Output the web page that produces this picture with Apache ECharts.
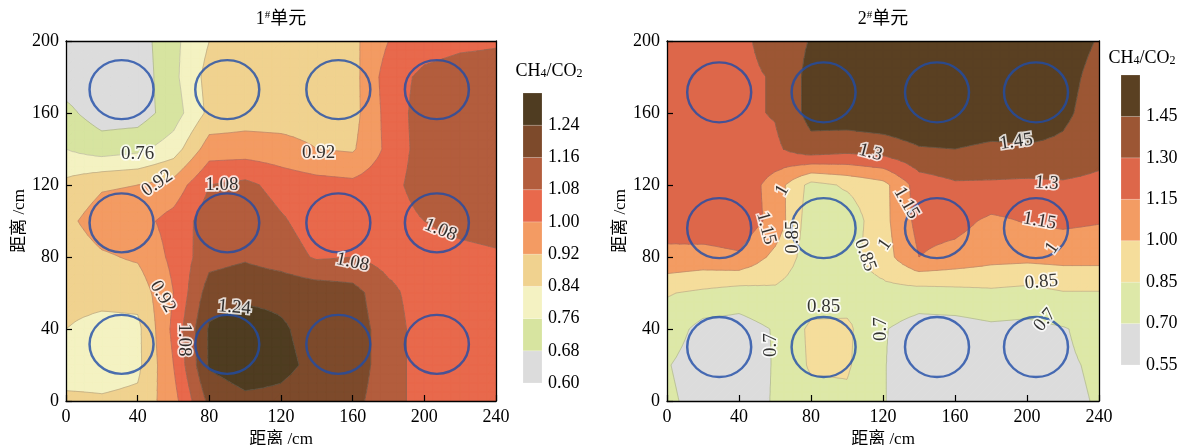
<!DOCTYPE html>
<html><head><meta charset="utf-8">
<script src="https://cdn.jsdelivr.net/npm/echarts@6/dist/echarts.min.js"></script>
<style>html,body{margin:0;padding:0;background:#fff}#c{width:1184px;height:445px}</style>
</head><body><div id="c"></div>
<script>
// ---------------- data ----------------
const X_NODES = [0,20,40,60,80,100,120,140,160,180,200,220,240];
const Y_NODES = [0,20,40,60,80,100,120,140,160,180,200];

const P1_LEVELS = [0.60,0.68,0.76,0.84,0.92,1.00,1.08,1.16,1.24,1.32];
const P1_COLORS = ['#dcdcdc','#d7e4a0','#f4f2c2','#f0d28f','#f39b63','#e8694c','#b35d3d','#7d4a2b','#4f3c21'];
// rows from y=200 (top) down to y=0, columns x=0..240
const P1_VALUES = [
 [0.62,0.62,0.64,0.74,0.84,0.88,0.88,0.88,0.90,1.00,1.04,1.06,1.07],
 [0.64,0.62,0.63,0.74,0.87,0.88,0.88,0.88,0.89,1.04,1.10,1.12,1.12],
 [0.70,0.64,0.64,0.72,0.86,0.88,0.88,0.88,0.89,1.03,1.12,1.13,1.13],
 [0.76,0.72,0.74,0.80,0.96,0.96,0.95,0.92,0.91,1.02,1.12,1.14,1.14],
 [0.86,0.91,0.92,0.95,1.08,1.10,1.05,1.03,1.02,1.05,1.12,1.13,1.14],
 [0.90,0.96,0.97,1.03,1.12,1.14,1.09,1.04,1.03,1.04,1.08,1.10,1.11],
 [0.87,0.91,0.93,1.02,1.13,1.15,1.12,1.07,1.08,1.05,1.05,1.06,1.07],
 [0.87,0.87,0.87,1.00,1.20,1.22,1.22,1.21,1.19,1.10,1.04,1.04,1.05],
 [0.84,0.81,0.82,1.02,1.25,1.28,1.25,1.21,1.20,1.12,1.04,1.03,1.03],
 [0.79,0.80,0.82,1.00,1.25,1.29,1.26,1.22,1.20,1.12,1.04,1.03,1.03],
 [0.86,0.85,0.86,0.97,1.18,1.22,1.22,1.20,1.18,1.12,1.04,1.03,1.03]
];
const P1_CIRCLE_X = [31,90,152,207];
const P1_CIRCLE_Y = [173,99,31.5];
const P1_LABELS = [
 [40,137,'0.76',0],[51,121,'0.92',35],[87,120,'1.08',0],[141,138,'0.92',0],
 [209,95,'1.08',-22],[160,77,'1.08',-12],[54,58,'0.92',-60],[66,34,'1.08',-90],[94,52,'1.24',-5]
];

const P2_LEVELS = [0.55,0.70,0.85,1.00,1.15,1.30,1.45,1.60];
const P2_COLORS = ['#dcdcdc','#dde8a8','#f5dd9b','#f39c63','#dd674a','#9c5634','#5a4022'];
const P2_VALUES = [
 [1.25,1.26,1.27,1.35,1.46,1.52,1.55,1.56,1.56,1.56,1.56,1.52,1.44],
 [1.25,1.26,1.27,1.31,1.50,1.55,1.58,1.60,1.60,1.58,1.58,1.50,1.40],
 [1.25,1.26,1.27,1.31,1.50,1.53,1.55,1.57,1.58,1.56,1.56,1.48,1.38],
 [1.24,1.25,1.26,1.27,1.40,1.36,1.38,1.44,1.45,1.42,1.43,1.42,1.36],
 [1.22,1.24,1.26,1.08,0.80,0.87,0.95,1.22,1.28,1.28,1.27,1.28,1.26],
 [1.20,1.24,1.25,1.10,0.76,0.76,0.95,1.20,1.20,1.12,1.16,1.18,1.16],
 [1.12,1.10,1.13,0.96,0.78,0.80,0.93,1.15,1.10,1.05,1.04,1.05,1.05],
 [0.86,0.82,0.78,0.82,0.77,0.78,0.80,0.78,0.80,0.82,0.80,0.84,0.84],
 [0.78,0.65,0.64,0.71,0.88,0.88,0.71,0.64,0.64,0.67,0.66,0.69,0.75],
 [0.71,0.62,0.62,0.71,0.87,0.87,0.71,0.60,0.60,0.60,0.62,0.68,0.72],
 [0.73,0.64,0.64,0.71,0.80,0.82,0.71,0.60,0.60,0.60,0.62,0.67,0.71]
];
const P2_CIRCLE_X = [29,87,150,205];
const P2_CIRCLE_Y = [171.5,96,30];
const P2_LABELS = [
 [113,138,'1.3',-15],[194,144,'1.45',8],[211,121,'1.3',-5],[133,110,'1.15',-60],
 [64,117,'1',60],[55,96,'1.15',-75],[70,91,'0.85',90],[110,81,'0.85',-70],
 [87,52,'0.85',0],[58,31,'0.7',90],[119,40,'0.7',90],[210,45,'0.7',50],
 [208,66,'0.85',5],[214,85,'1',55],[121,87,'1',55],[207,100,'1.15',-10]
];

const X_TICKS_INTERVAL = 40;
const Y_TICKS_INTERVAL = 40;

// ---------------- geometry helpers ----------------
const SERIF = "'Liberation Serif','Times New Roman','Noto Sans CJK SC',serif";
function buildTris(rows){
  const nY = rows.length, nX = rows[0].length, N = 4, tris = [];
  const val = (i,j) => rows[nY-1-j][i];
  for(let j=0;j<nY-1;j++) for(let i=0;i<nX-1;i++){
    const v00=val(i,j), v10=val(i+1,j), v01=val(i,j+1), v11=val(i+1,j+1);
    const x0=X_NODES[i], x1=X_NODES[i+1], y0=Y_NODES[j], y1=Y_NODES[j+1];
    const pt=(a,b)=>{const s=a/N,t=b/N;return {x:x0+(x1-x0)*s,y:y0+(y1-y0)*t,
      v:v00*(1-s)*(1-t)+v10*s*(1-t)+v01*(1-s)*t+v11*s*t};};
    for(let a=0;a<N;a++) for(let b=0;b<N;b++){
      const p00=pt(a,b),p10=pt(a+1,b),p01=pt(a,b+1),p11=pt(a+1,b+1);
      tris.push([p00,p10,p11],[p00,p11,p01]);
    }
  }
  return tris;
}
function inter(a,b,l){const t=(l-a.v)/(b.v-a.v);return {x:a.x+(b.x-a.x)*t,y:a.y+(b.y-a.y)*t,v:l};}
function clipPoly(poly,l,above){
  const out=[],n=poly.length;
  for(let i=0;i<n;i++){
    const S=poly[(i+n-1)%n],E=poly[i];
    const sIn=above?S.v>=l:S.v<=l, eIn=above?E.v>=l:E.v<=l;
    if(eIn){ if(!sIn) out.push(inter(S,E,l)); out.push(E);} else if(sIn) out.push(inter(S,E,l));
  }
  return out;
}
function fillRender(tris,levels,colors){
  return function(params,api){
    const k=params.dataIndex, last=colors.length-1;
    const lo=k===0?-Infinity:levels[k], hi=k===last?Infinity:levels[k+1];
    let d='';
    for(const tri of tris){
      const vmin=Math.min(tri[0].v,tri[1].v,tri[2].v), vmax=Math.max(tri[0].v,tri[1].v,tri[2].v);
      if(vmax<lo||vmin>hi) continue;
      let poly=tri;
      if(vmin<lo) poly=clipPoly(poly,lo,true);
      if(poly.length<3) continue;
      if(vmax>hi) poly=clipPoly(poly,hi,false);
      if(poly.length<3) continue;
      poly.forEach((p,ii)=>{const c=api.coord([p.x,p.y]);d+=(ii?'L':'M')+c[0].toFixed(2)+' '+c[1].toFixed(2);});
      d+='Z';
    }
    if(!d) return {type:'group',children:[]};
    return {type:'path',shape:{pathData:d},style:{fill:colors[k],stroke:colors[k],lineWidth:0.7}};
  };
}
function lineRender(tris,levels){
  const inner=levels.slice(1,levels.length-1);
  return function(params,api){
    const l=inner[params.dataIndex]; let d='';
    for(const tri of tris){
      const pts=[];
      for(let i=0;i<3;i++){const a=tri[i],b=tri[(i+1)%3]; if((a.v<l)!==(b.v<l)) pts.push(inter(a,b,l));}
      if(pts.length===2){
        const c1=api.coord([pts[0].x,pts[0].y]),c2=api.coord([pts[1].x,pts[1].y]);
        d+='M'+c1[0].toFixed(2)+' '+c1[1].toFixed(2)+'L'+c2[0].toFixed(2)+' '+c2[1].toFixed(2);
      }
    }
    if(!d) return {type:'group',children:[]};
    return {type:'path',shape:{pathData:d},style:{fill:null,stroke:'rgba(110,110,110,0.45)',lineWidth:0.7}};
  };
}
function barRender(colors){
  return function(params,api){
    const k=params.dataIndex;
    const p1=api.coord([0,k]), p2=api.coord([1,k+1]);
    return {type:'rect',shape:{x:p1[0],y:p2[1],width:p2[0]-p1[0],height:p1[1]-p2[1]},
      style:{fill:colors[k],stroke:'rgba(255,255,255,0.35)',lineWidth:0.5}};
  };
}

const tris1=buildTris(P1_VALUES), tris2=buildTris(P2_VALUES);

// ---------------- axes ----------------
const tickFont={fontFamily:SERIF,fontSize:18,color:'#000'};
const nameFont={fontFamily:SERIF,fontSize:17,color:'#000'};
function plotX(g){return [
 {gridIndex:g,type:'value',min:0,max:240,interval:X_TICKS_INTERVAL,position:'bottom',z:10,
  axisLine:{show:true,onZero:false,lineStyle:{color:'#000',width:1.3}},
  axisTick:{show:true,inside:true,length:6,lineStyle:{color:'#000',width:1.2}},
  axisLabel:Object.assign({margin:7},tickFont),splitLine:{show:false},
  name:'距离 /cm',nameLocation:'middle',nameGap:25,nameTextStyle:nameFont},
 {gridIndex:g,type:'value',min:0,max:240,position:'top',z:10,
  axisLine:{show:true,onZero:false,lineStyle:{color:'#000',width:1.3}},
  axisTick:{show:false},axisLabel:{show:false},splitLine:{show:false}}];}
function plotY(g){return [
 {gridIndex:g,type:'value',min:0,max:200,interval:Y_TICKS_INTERVAL,position:'left',z:10,
  axisLine:{show:true,onZero:false,lineStyle:{color:'#000',width:1.3}},
  axisTick:{show:true,inside:true,length:6,lineStyle:{color:'#000',width:1.2}},
  axisLabel:Object.assign({margin:7},tickFont),splitLine:{show:false},
  name:'距离 /cm',nameLocation:'middle',nameGap:37,nameRotate:90,nameTextStyle:nameFont},
 {gridIndex:g,type:'value',min:0,max:200,position:'right',z:10,
  axisLine:{show:true,onZero:false,lineStyle:{color:'#000',width:1.3}},
  axisTick:{show:false},axisLabel:{show:false},splitLine:{show:false}}];}
function barX(g){return {gridIndex:g,type:'value',min:0,max:1,show:false};}
function barY(g,levels){const n=levels.length-1;return {gridIndex:g,type:'value',min:0,max:n,interval:1,position:'right',
  axisLine:{show:false},axisTick:{show:false},splitLine:{show:false},
  axisLabel:Object.assign({margin:6,formatter:v=>v>=n-0.01?'':levels[Math.round(v)].toFixed(2)},tickFont)};}

const labelStyle={show:true,position:'inside',formatter:'{b}',fontFamily:SERIF,fontSize:19,color:'#000',
  textBorderColor:'#fff',textBorderWidth:3.5};
const circleStyle={color:'rgba(0,0,0,0)',borderColor:'#1f4ca8',borderWidth:2.4};

const chart=echarts.init(document.getElementById('c'),null,{renderer:'canvas'});
chart.setOption({
  animation:false,
  grid:[
    {left:66,top:41,width:430,height:360,outerBoundsMode:'none'},
    {left:667,top:41,width:432,height:360,outerBoundsMode:'none'},
    {left:523,top:93,width:19,height:290,outerBoundsMode:'none'},
    {left:1121,top:75,width:19,height:290,outerBoundsMode:'none'}
  ],
  xAxis:[...plotX(0),...plotX(1),barX(2),barX(3)],
  yAxis:[...plotY(0),...plotY(1),barY(2,P1_LEVELS),barY(3,P2_LEVELS)],
  graphic:[
    {type:'text',x:281,y:19,style:{text:'1{sup|#}单元',align:'center',verticalAlign:'middle',fill:'#000',
      font:"18px "+SERIF,rich:{sup:{fontSize:11,verticalAlign:'top',fontFamily:SERIF}}}},
    {type:'text',x:883,y:19,style:{text:'2{sup|#}单元',align:'center',verticalAlign:'middle',fill:'#000',
      font:"18px "+SERIF,rich:{sup:{fontSize:11,verticalAlign:'top',fontFamily:SERIF}}}},
    {type:'text',x:549,y:71,style:{text:'CH{sub|4}/CO{sub|2}',align:'center',verticalAlign:'middle',fill:'#000',
      font:"18px "+SERIF,rich:{sub:{fontSize:12,verticalAlign:'bottom',fontFamily:SERIF}}}},
    {type:'text',x:1142,y:58,style:{text:'CH{sub|4}/CO{sub|2}',align:'center',verticalAlign:'middle',fill:'#000',
      font:"18px "+SERIF,rich:{sub:{fontSize:12,verticalAlign:'bottom',fontFamily:SERIF}}}}
  ],
  series:[
    {type:'custom',xAxisIndex:0,yAxisIndex:0,z:1,silent:true,clip:true,renderItem:fillRender(tris1,P1_LEVELS,P1_COLORS),data:P1_COLORS.map((c,i)=>[i,0])},
    {type:'custom',xAxisIndex:0,yAxisIndex:0,z:2,silent:true,clip:true,renderItem:lineRender(tris1,P1_LEVELS),data:P1_LEVELS.slice(1,-1).map((c,i)=>[i,0])},
    {type:'custom',xAxisIndex:2,yAxisIndex:2,z:1,silent:true,clip:true,renderItem:fillRender(tris2,P2_LEVELS,P2_COLORS),data:P2_COLORS.map((c,i)=>[i,0])},
    {type:'custom',xAxisIndex:2,yAxisIndex:2,z:2,silent:true,clip:true,renderItem:lineRender(tris2,P2_LEVELS),data:P2_LEVELS.slice(1,-1).map((c,i)=>[i,0])},
    {type:'scatter',xAxisIndex:0,yAxisIndex:0,z:3,silent:true,symbol:'circle',symbolSize:[64,59],itemStyle:circleStyle,
      data:P1_CIRCLE_Y.flatMap(y=>P1_CIRCLE_X.map(x=>[x,y]))},
    {type:'scatter',xAxisIndex:2,yAxisIndex:2,z:3,silent:true,symbol:'circle',symbolSize:[64,60],itemStyle:circleStyle,
      data:P2_CIRCLE_Y.flatMap(y=>P2_CIRCLE_X.map(x=>[x,y]))},
    {type:'scatter',xAxisIndex:0,yAxisIndex:0,z:4,silent:true,symbolSize:1,itemStyle:{color:'rgba(0,0,0,0)'},label:labelStyle,
      data:P1_LABELS.map(l=>({name:l[2],value:[l[0],l[1]],label:{rotate:l[3]}}))},
    {type:'scatter',xAxisIndex:2,yAxisIndex:2,z:4,silent:true,symbolSize:1,itemStyle:{color:'rgba(0,0,0,0)'},label:labelStyle,
      data:P2_LABELS.map(l=>({name:l[2],value:[l[0],l[1]],label:{rotate:l[3]}}))},
    {type:'custom',xAxisIndex:4,yAxisIndex:4,silent:true,renderItem:barRender(P1_COLORS),data:P1_COLORS.map((c,i)=>[i,0])},
    {type:'custom',xAxisIndex:5,yAxisIndex:5,silent:true,renderItem:barRender(P2_COLORS),data:P2_COLORS.map((c,i)=>[i,0])}
  ]
});
</script></body></html>
